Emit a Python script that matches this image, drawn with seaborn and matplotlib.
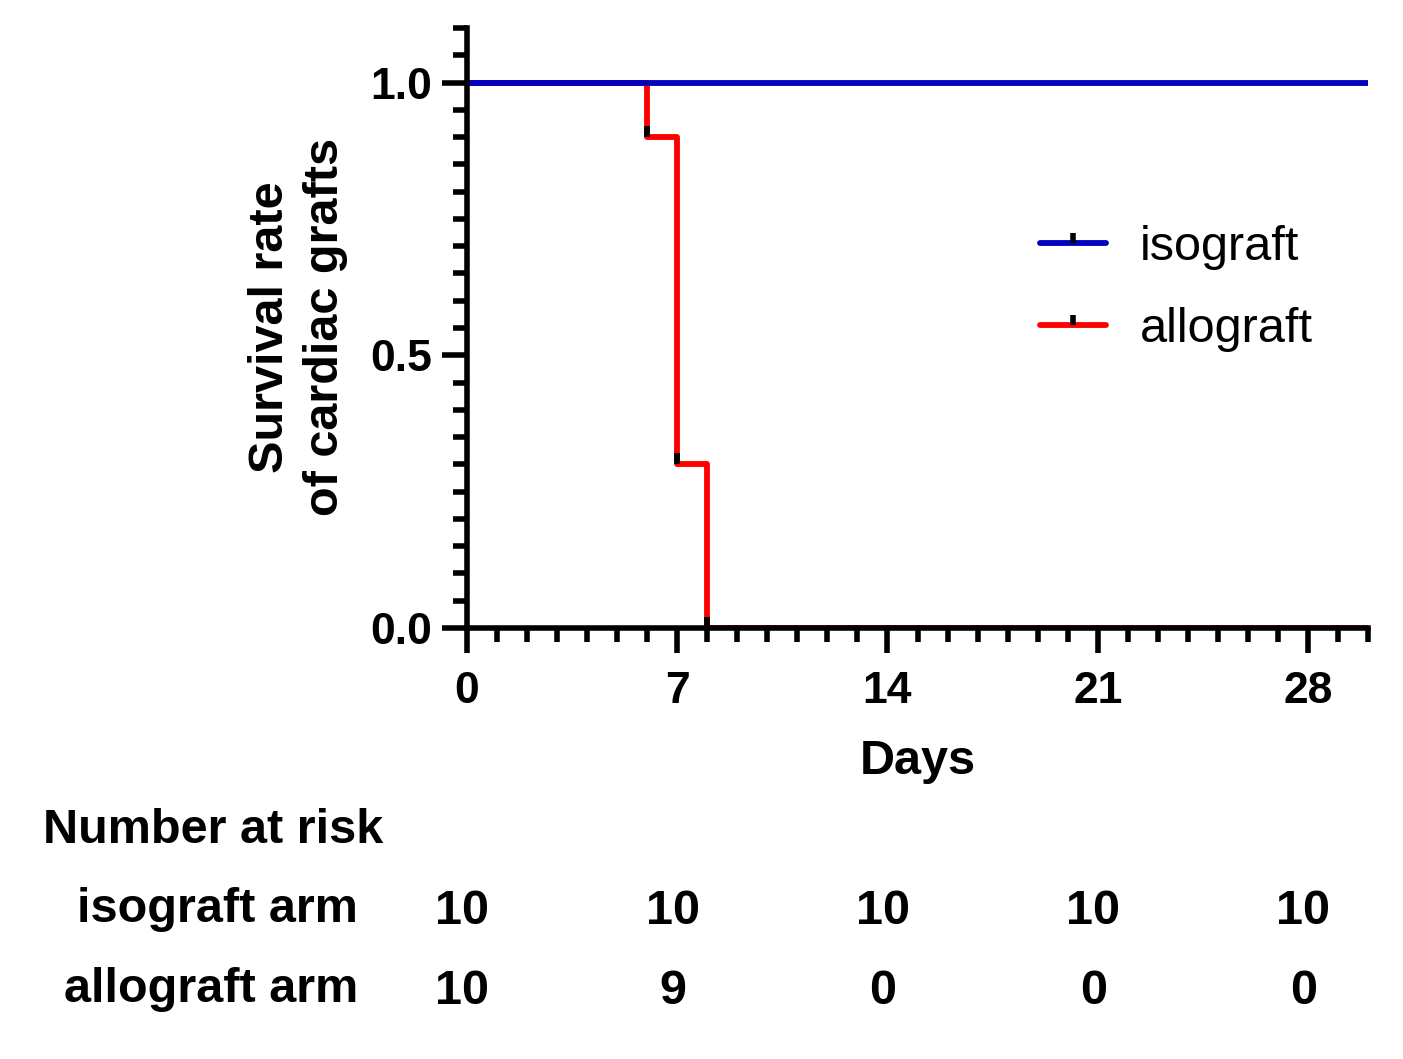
import numpy as np
import pandas as pd
import matplotlib
matplotlib.use("Agg")
import matplotlib.pyplot as plt
import matplotlib.transforms as mtrans
from matplotlib.ticker import MultipleLocator, FormatStrFormatter
from matplotlib.lines import Line2D
import seaborn as sns

# ---- data ----
groups = ["isograft", "allograft"]
iso_days = [0, 30]
iso_surv = [1.0, 1.0]
allo_days = [0, 6, 7, 8, 30]
allo_surv = [1.0, 0.9, 0.3, 0.0, 0.0]
event_days = [6, 7, 8]
event_surv = [0.9, 0.3, 0.0]
risk_days = [0, 7, 14, 21, 28]
risk_iso = [10, 10, 10, 10, 10]
risk_allo = [10, 9, 0, 0, 0]
row_labels = ["isograft arm", "allograft arm"]
colors = {"isograft": "#0000C0", "allograft": "#FF0000"}

df = pd.concat([
    pd.DataFrame({"day": iso_days, "surv": iso_surv, "group": "isograft"}),
    pd.DataFrame({"day": allo_days, "surv": allo_surv, "group": "allograft"}),
], ignore_index=True)

sns.set_theme(style="ticks")
plt.rcParams["font.family"] = ["Liberation Sans", "DejaVu Sans"]
plt.rcParams["font.weight"] = "bold"
plt.rcParams["text.color"] = "black"

W, H = 1403, 1059
fig = plt.figure(figsize=(W / 100, H / 100), dpi=100)
ax = fig.add_axes([467 / W, 1 - 628 / H, (1368 - 467) / W, (628 - 28) / H])

LW = 4.2
SW = 4.0
sns.lineplot(data=df[df["group"] == "allograft"], x="day", y="surv",
             color=colors["allograft"], drawstyle="steps-post", lw=LW,
             estimator=None, legend=False, ax=ax, zorder=2)
sns.lineplot(data=df[df["group"] == "isograft"], x="day", y="surv",
             color=colors["isograft"], drawstyle="steps-post", lw=LW,
             estimator=None, legend=False, ax=ax, zorder=2.1)
ax.plot(event_days, event_surv, ls="none", marker=2, ms=8, mew=4.2,
        color="black", zorder=2.2, clip_on=False)

ax.set_xlim(0, 30)
ax.set_ylim(0, 1.1)
ax.xaxis.set_major_locator(MultipleLocator(7))
ax.xaxis.set_minor_locator(MultipleLocator(1))
ax.yaxis.set_major_locator(MultipleLocator(0.5))
ax.yaxis.set_minor_locator(MultipleLocator(0.05))
ax.yaxis.set_major_formatter(FormatStrFormatter("%.1f"))

for s in ["top", "right"]:
    ax.spines[s].set_visible(False)
for s in ["left", "bottom"]:
    ax.spines[s].set_linewidth(SW)
    ax.spines[s].set_color("black")
    ax.spines[s].set_capstyle("projecting")

ax.tick_params(which="major", length=18, width=SW, color="black",
               direction="out", labelsize=32, labelcolor="black")
ax.tick_params(axis="x", which="major", pad=13)
ax.tick_params(axis="y", which="major", pad=7)
ax.tick_params(which="minor", length=10, width=SW, color="black",
               direction="out")
for t in ax.get_xticklabels() + ax.get_yticklabels():
    t.set_fontweight("bold")

ax.set_xlabel("Days", fontsize=35, fontweight="bold", color="black")
ax.xaxis.label.set_va("top")
ax.xaxis.set_label_coords(0.5, -0.185)
ax.set_ylabel("Survival rate\nof cardiac grafts", fontsize=35,
              fontweight="bold", color="black", linespacing=1.3,
              multialignment="center")
ax.yaxis.label.set_va("center")
ax.yaxis.set_label_coords((298 - 467) / 901, (628 - 327) / 600)

handles = [Line2D([], [], color=colors[g], lw=LW, marker=2, ms=7, mew=4.0,
                  mec="black", mfc="black") for g in groups]
ax.legend(handles, groups, loc="center left", bbox_to_anchor=(0.636, 0.566),
          frameon=False, prop={"size": 35, "weight": "normal"},
          handlelength=1.35, handletextpad=0.7, labelspacing=0.75,
          borderaxespad=0, borderpad=0, numpoints=1, labelcolor="black")

# number at risk table
fig.text(43 / W, 1 - 843 / H, "Number at risk", ha="left", va="baseline",
         fontsize=35, fontweight="bold", color="black")
row_y = [922, 1002]
for lab, yy in zip(row_labels, row_y):
    fig.text(358 / W, 1 - yy / H, lab, ha="right", va="baseline",
             fontsize=35, fontweight="bold", color="black")
trans = mtrans.blended_transform_factory(ax.transData, fig.transFigure)
for vals, yy in zip([risk_iso, risk_allo], row_y):
    for d, n in zip(risk_days, vals):
        ax.text(d - 0.15, 1 - (yy + 2) / H, str(n), transform=trans,
                ha="center", va="baseline", fontsize=35, fontweight="bold",
                color="black", clip_on=False)

fig.savefig("out.png", dpi=100)
